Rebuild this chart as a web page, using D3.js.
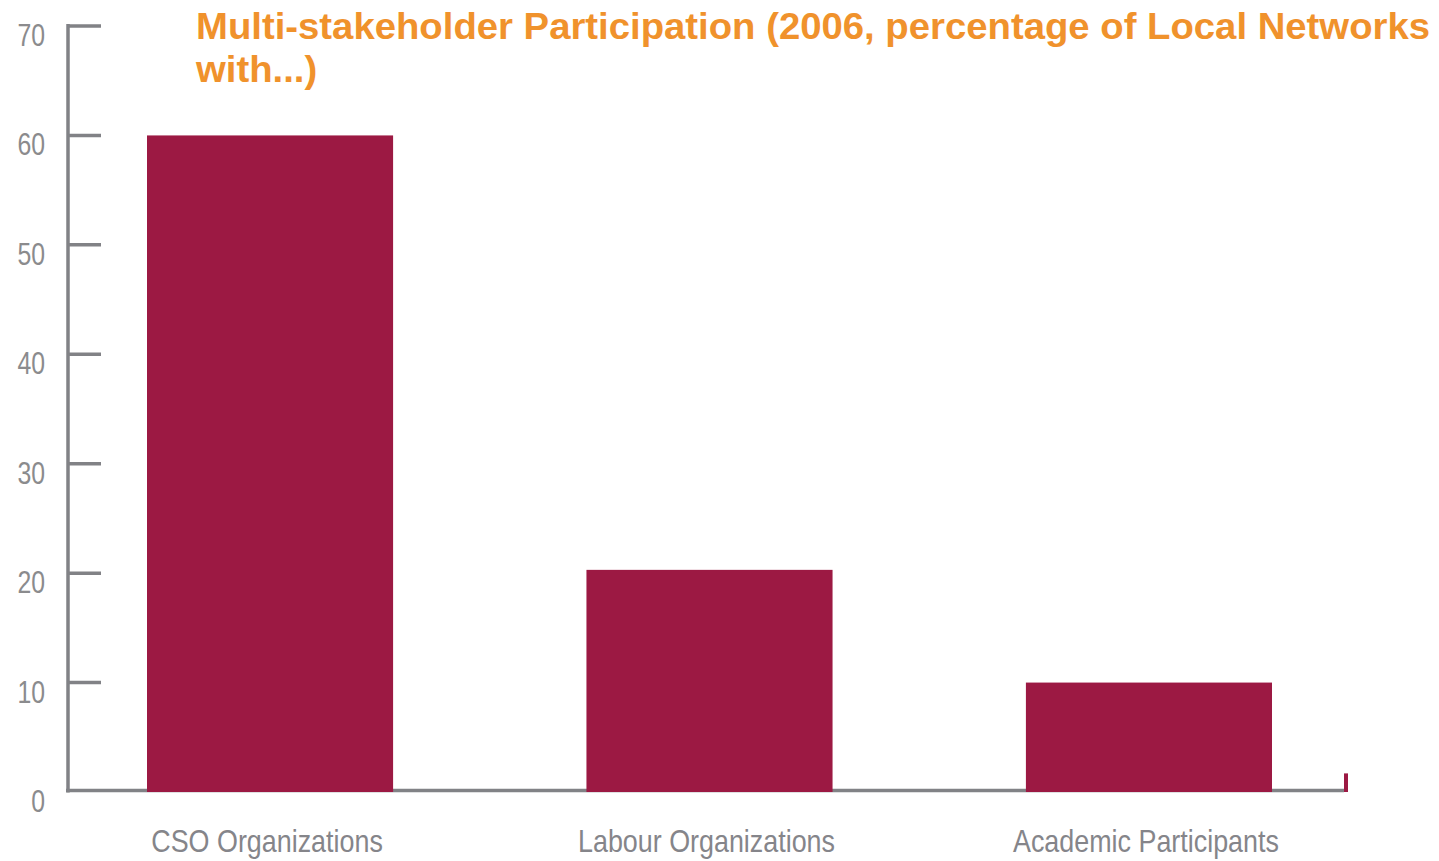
<!DOCTYPE html>
<html lang="en">
  <head>
    <meta charset="UTF-8" />
    <title>Multi-stakeholder Participation</title>
    <script src="https://d3js.org/d3.v7.min.js"></script>
    <style>
      body { margin: 0; background: #fff; }
      .tick-label { fill: #8b8b8d; font-family: "Liberation Sans", Arial, sans-serif; font-size: 31px; }
      .cat-label { fill: #85858a; font-family: "Liberation Sans", Arial, sans-serif; font-size: 32px; }
      .title { fill: #f0922c; font-family: "Liberation Sans", Arial, sans-serif; font-weight: bold; font-size: 36px; }
    </style>
  </head>
  <body>
    <svg id="chart" width="1439" height="861"></svg>
    <script>
      const categories = ["CSO Organizations", "Labour Organizations", "Academic Participants"];
      const values = [60, 20.3, 10];
      const yTicks = [0, 10, 20, 30, 40, 50, 60, 70];
      const titleLines = ["Multi-stakeholder Participation (2006, percentage of Local Networks", "with...)"];
      const endMarkValue = [1.7];

      const svg = d3.select("#chart");
      const axisColor = "#818286";
      const barColor = "#9c1943";

      const x = d3.scaleBand().domain(categories).range([147, 1272]).paddingInner(0.44).paddingOuter(0);
      const y = d3.scaleLinear().domain([0, 70]).range([792, 26]);

      // bars
      svg.append("g")
        .selectAll("rect")
        .data(values)
        .join("rect")
        .attr("x", (d, i) => x(categories[i]))
        .attr("y", d => y(d))
        .attr("width", x.bandwidth())
        .attr("height", d => y(0) - y(d))
        .attr("fill", barColor);

      // y axis line and ticks
      svg.append("line")
        .attr("x1", 68).attr("x2", 68)
        .attr("y1", y(70) - 2).attr("y2", y(0) + 0.5)
        .attr("stroke", axisColor).attr("stroke-width", 3.5);

      svg.append("g")
        .selectAll("line")
        .data(yTicks.filter(d => d > 0))
        .join("line")
        .attr("x1", 68).attr("x2", 101)
        .attr("y1", d => y(d)).attr("y2", d => y(d))
        .attr("stroke", axisColor).attr("stroke-width", 3.5);

      // baseline
      svg.append("line")
        .attr("x1", 66).attr("x2", 1344)
        .attr("y1", y(0) - 1.5).attr("y2", y(0) - 1.5)
        .attr("stroke", axisColor).attr("stroke-width", 3.5)
        .lower();

      // small mark at the end of the baseline
      svg.append("g")
        .selectAll("rect")
        .data(endMarkValue)
        .join("rect")
        .attr("x", 1344).attr("width", 4)
        .attr("y", d => y(d)).attr("height", d => y(0) - y(d))
        .attr("fill", barColor);

      // tick labels
      svg.append("g")
        .selectAll("text")
        .data(yTicks)
        .join("text")
        .attr("class", "tick-label")
        .attr("x", 45)
        .attr("y", d => y(d) + 20)
        .attr("text-anchor", "end")
        .text(d => d)
        .each(function () {
          const w = this.getComputedTextLength();
          d3.select(this).attr("textLength", w * 0.8).attr("lengthAdjust", "spacingAndGlyphs");
        });

      // category labels
      svg.append("g")
        .selectAll("text")
        .data(categories)
        .join("text")
        .attr("class", "cat-label")
        .attr("x", d => x(d) + x.bandwidth() / 2 - 3)
        .attr("y", 852)
        .attr("text-anchor", "middle")
        .text(d => d)
        .each(function () {
          const w = this.getComputedTextLength();
          d3.select(this).attr("textLength", w * 0.84).attr("lengthAdjust", "spacingAndGlyphs");
        });

      // title
      const title = svg.append("g");
      let squeeze = 1;
      title.selectAll("text")
        .data(titleLines)
        .join("text")
        .attr("class", "title")
        .attr("x", 196)
        .attr("y", (d, i) => 39 + i * 43)
        .text(d => d)
        .each(function (d, i) {
          const w = this.getComputedTextLength();
          if (i === 0) squeeze = 1234 / w;
          d3.select(this).attr("textLength", w * squeeze).attr("lengthAdjust", "spacingAndGlyphs");
        });
    </script>
  </body>
</html>
